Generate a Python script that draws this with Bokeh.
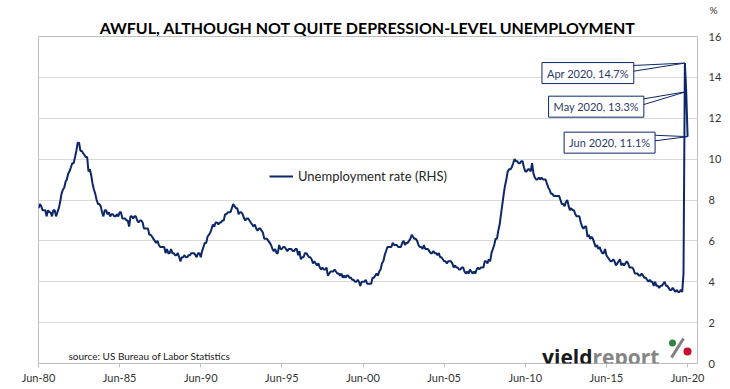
import pandas as pd
from bokeh.plotting import figure
from bokeh.models import Range1d, FixedTicker, Label, Legend, LegendItem, DatetimeTickFormatter, Title
from bokeh.embed import file_html
from bokeh.resources import INLINE

# ---------------- data ----------------
title_text = "AWFUL, ALTHOUGH NOT QUITE DEPRESSION-LEVEL UNEMPLOYMENT"
series_name = "Unemployment rate (RHS)"
source_text = "source: US Bureau of Labor Statistics"
unit_text = "%"
start_month = "1980-06-01"

unemployment_rate = [
    7.6, 7.8, 7.7, 7.5, 7.5, 7.5, 7.2,                                # 1980 Jun-Dec
    7.5, 7.4, 7.4, 7.2, 7.5, 7.5, 7.2, 7.4, 7.6, 7.9, 8.3, 8.5,       # 1981
    8.6, 8.9, 9.0, 9.3, 9.4, 9.6, 9.8, 9.8, 10.1, 10.4, 10.8, 10.8,   # 1982
    10.4, 10.4, 10.3, 10.2, 10.1, 10.1, 9.4, 9.5, 9.2, 8.8, 8.5, 8.3, # 1983
    8.0, 7.8, 7.8, 7.7, 7.4, 7.2, 7.5, 7.5, 7.3, 7.4, 7.2, 7.3,       # 1984
    7.3, 7.2, 7.2, 7.3, 7.2, 7.4, 7.4, 7.1, 7.1, 7.1, 7.0, 7.0,       # 1985
    6.7, 7.2, 7.2, 7.1, 7.2, 7.2, 7.0, 6.9, 7.0, 7.0, 6.9, 6.6,       # 1986
    6.6, 6.6, 6.6, 6.3, 6.3, 6.2, 6.1, 6.0, 5.9, 6.0, 5.8, 5.7,       # 1987
    5.7, 5.7, 5.7, 5.4, 5.6, 5.4, 5.4, 5.6, 5.4, 5.4, 5.3, 5.3,       # 1988
    5.4, 5.2, 5.0, 5.2, 5.2, 5.3, 5.2, 5.2, 5.3, 5.3, 5.4, 5.4,       # 1989
    5.4, 5.3, 5.2, 5.4, 5.4, 5.2, 5.5, 5.7, 5.9, 5.9, 6.2, 6.3,       # 1990
    6.4, 6.6, 6.8, 6.7, 6.9, 6.9, 6.8, 6.9, 6.9, 7.0, 7.0, 7.3,       # 1991
    7.3, 7.4, 7.4, 7.4, 7.6, 7.8, 7.7, 7.6, 7.6, 7.3, 7.4, 7.4,       # 1992
    7.3, 7.1, 7.0, 7.1, 7.1, 7.0, 6.9, 6.8, 6.7, 6.8, 6.6, 6.5,       # 1993
    6.6, 6.6, 6.5, 6.4, 6.1, 6.1, 6.1, 6.0, 5.9, 5.8, 5.6, 5.5,       # 1994
    5.6, 5.4, 5.4, 5.8, 5.6, 5.6, 5.7, 5.7, 5.6, 5.5, 5.6, 5.6,       # 1995
    5.6, 5.5, 5.5, 5.6, 5.6, 5.3, 5.5, 5.1, 5.2, 5.2, 5.4, 5.4,       # 1996
    5.3, 5.2, 5.2, 5.1, 4.9, 5.0, 4.9, 4.8, 4.9, 4.7, 4.6, 4.7,       # 1997
    4.6, 4.6, 4.7, 4.3, 4.4, 4.5, 4.5, 4.5, 4.6, 4.5, 4.4, 4.4,       # 1998
    4.3, 4.4, 4.2, 4.3, 4.2, 4.3, 4.3, 4.2, 4.2, 4.1, 4.1, 4.0,       # 1999
    4.0, 4.1, 4.0, 3.8, 4.0, 4.0, 4.0, 4.1, 3.9, 3.9, 3.9, 3.9,       # 2000
    4.2, 4.2, 4.3, 4.4, 4.3, 4.5, 4.6, 4.9, 5.0, 5.3, 5.5, 5.7,       # 2001
    5.7, 5.7, 5.7, 5.9, 5.8, 5.8, 5.8, 5.7, 5.7, 5.7, 5.9, 6.0,       # 2002
    5.8, 5.9, 5.9, 6.0, 6.1, 6.3, 6.2, 6.1, 6.1, 6.0, 5.8, 5.7,       # 2003
    5.7, 5.6, 5.8, 5.6, 5.6, 5.6, 5.5, 5.4, 5.4, 5.5, 5.4, 5.4,       # 2004
    5.3, 5.4, 5.2, 5.2, 5.1, 5.0, 5.0, 4.9, 5.0, 5.0, 5.0, 4.9,       # 2005
    4.7, 4.8, 4.7, 4.7, 4.6, 4.6, 4.7, 4.7, 4.5, 4.4, 4.5, 4.4,       # 2006
    4.6, 4.5, 4.4, 4.5, 4.4, 4.6, 4.7, 4.6, 4.7, 4.7, 4.7, 5.0,       # 2007
    5.0, 4.9, 5.1, 5.0, 5.4, 5.6, 5.8, 6.1, 6.1, 6.5, 6.8, 7.3,       # 2008
    7.8, 8.3, 8.7, 9.0, 9.4, 9.5, 9.5, 9.6, 9.8, 10.0, 9.9, 9.9,      # 2009
    9.8, 9.8, 9.9, 9.9, 9.6, 9.4, 9.4, 9.5, 9.5, 9.4, 9.8, 9.3,       # 2010
    9.1, 9.0, 9.0, 9.1, 9.0, 9.1, 9.0, 9.0, 9.0, 8.8, 8.6, 8.5,       # 2011
    8.3, 8.3, 8.2, 8.2, 8.2, 8.2, 8.2, 8.0, 7.8, 7.8, 7.7, 7.9,       # 2012
    8.0, 7.7, 7.5, 7.6, 7.5, 7.5, 7.3, 7.2, 7.2, 7.2, 6.9, 6.7,       # 2013
    6.6, 6.7, 6.7, 6.2, 6.3, 6.1, 6.2, 6.1, 5.9, 5.7, 5.8, 5.6,       # 2014
    5.7, 5.5, 5.4, 5.4, 5.6, 5.3, 5.2, 5.1, 5.0, 5.0, 5.1, 5.0,       # 2015
    4.8, 4.9, 5.0, 5.1, 4.8, 4.9, 4.8, 4.9, 5.0, 4.9, 4.7, 4.7,       # 2016
    4.7, 4.6, 4.4, 4.4, 4.4, 4.3, 4.3, 4.4, 4.3, 4.2, 4.2, 4.1,       # 2017
    4.0, 4.1, 4.0, 4.0, 3.8, 4.0, 3.8, 3.8, 3.7, 3.8, 3.8, 3.9,       # 2018
    4.0, 3.8, 3.8, 3.7, 3.6, 3.6, 3.7, 3.6, 3.5, 3.6, 3.5, 3.5,       # 2019
    3.6, 3.5, 4.4, 14.7, 13.3, 11.1,                                  # 2020 Jan-Jun
]

tick_dates = ["1980-06-01", "1985-06-01", "1990-06-01", "1995-06-01", "2000-06-01",
              "2005-06-01", "2010-06-01", "2015-06-01", "2020-06-01"]
tick_labels = ["Jun-80", "Jun-85", "Jun-90", "Jun-95", "Jun-00",
               "Jun-05", "Jun-10", "Jun-15", "Jun-20"]
y_ticks = [0, 2, 4, 6, 8, 10, 12, 14, 16]

callout_months = ["2020-04-01", "2020-05-01", "2020-06-01"]
callout_values = [14.7, 13.3, 11.1]
callout_labels = ["Apr 2020, 14.7%", "May 2020, 13.3%", "Jun 2020, 11.1%"]

# ---------------- styling ----------------
FONT = "Lato"
NAVY = "#0c2868"
TXT = "#333333"
GRID = "#d9d9d9"
BORDER = "#bfbfbf"

FIG_W, FIG_H = 730, 389
B_LEFT, B_RIGHT, B_TOP, B_BOTTOM = 38, 33, 36, 26
FRAME_W = FIG_W - B_LEFT - B_RIGHT
FRAME_H = FIG_H - B_TOP - B_BOTTOM

x_start = pd.Timestamp("1980-06-01")
x_end = pd.Timestamp("2021-01-10")
ms = lambda t: pd.Timestamp(t).value / 1e6
ms_per_px = (ms(x_end) - ms(x_start)) / FRAME_W
y_per_px = 16.0 / FRAME_H

dates = pd.date_range(start_month, periods=len(unemployment_rate), freq="MS")

p = figure(width=FIG_W, height=FIG_H, x_axis_type="datetime", y_axis_location="right",
           x_range=Range1d(x_start, x_end), y_range=Range1d(0, 16),
           output_backend="svg", toolbar_location=None,
           min_border_left=B_LEFT, min_border_right=B_RIGHT,
           min_border_top=B_TOP, min_border_bottom=B_BOTTOM)

p.background_fill_color = "white"
p.border_fill_color = "white"
p.outline_line_color = BORDER
p.outline_line_width = 1

# main title (inner) and "%" unit (outer) stacked in the top panel
p.title = None
main_title = Title(text=title_text, align="center", standoff=0,
                   text_font=FONT, text_font_size="16px", text_font_style="bold",
                   text_color="#000000")
unit_title = Title(text=unit_text, align="right", offset=-20, standoff=0,
                   text_font=FONT, text_font_size="10px", text_font_style="normal",
                   text_color=TXT)
p.add_layout(main_title, "above")
p.add_layout(unit_title, "above")

# x axis
tick_ms = [ms(t) for t in tick_dates]
p.xaxis.ticker = FixedTicker(ticks=tick_ms)
p.xaxis.formatter = DatetimeTickFormatter(years="%b-%y", months="%b-%y", days="%b-%y")
p.xaxis.major_label_overrides = {t: l for t, l in zip(tick_ms, tick_labels)}
p.xaxis.axis_line_color = BORDER
p.xaxis.major_tick_line_color = BORDER
p.xaxis.major_tick_in = 0
p.xaxis.major_tick_out = 4
p.xaxis.minor_tick_line_color = None
p.xaxis.major_label_standoff = 3
p.xaxis.major_label_text_font = FONT
p.xaxis.major_label_text_font_size = "11px"
p.xaxis.major_label_text_color = TXT

# right y axis
p.yaxis.ticker = FixedTicker(ticks=y_ticks)
p.yaxis.axis_line_color = None
p.yaxis.major_tick_line_color = None
p.yaxis.minor_tick_line_color = None
p.yaxis.major_tick_out = 0
p.yaxis.major_tick_in = 0
p.yaxis.major_label_standoff = 11
p.yaxis.major_label_text_font = FONT
p.yaxis.major_label_text_font_size = "11px"
p.yaxis.major_label_text_color = TXT

p.xgrid.visible = False
p.ygrid.ticker = FixedTicker(ticks=y_ticks)
p.ygrid.grid_line_color = GRID
p.ygrid.grid_line_width = 1

# callout pointers (drawn under the series line)
box_center_off = [(-97, 10), (-90, 15), (-78, 6)]   # px: (dx, dy down) of box centre from point
box_half_w = [44.5, 46.5, 44]
pxs, pys = [], []
for m, v, (dx, dy), hw in zip(callout_months, callout_values, box_center_off, box_half_w):
    t = ms(m)
    ex = t + (dx + hw - 1) * ms_per_px
    pxs.append([t, ex, ex])
    pys.append([v, v - (dy - 7.5) * y_per_px, v - (dy - 1.5) * y_per_px])
p.patches(pxs, pys, fill_color="white", line_color=NAVY, line_width=1)

line_r = p.line(dates, unemployment_rate, line_color=NAVY, line_width=2)

for m, v, txt, (dx, dy) in zip(callout_months, callout_values, callout_labels, box_center_off):
    p.add_layout(Label(x=ms(m), y=v, x_offset=dx, y_offset=-dy, text=txt,
                       text_align="center", text_baseline="middle",
                       text_font=FONT, text_font_size="11px", text_color="#2b3a67",
                       background_fill_color="white", border_line_color=NAVY,
                       border_line_width=1, padding=(5, 4)))

legend = Legend(items=[LegendItem(label=series_name, renderers=[line_r])],
                location=(231, 179), orientation="vertical",
                border_line_color=None, background_fill_alpha=0,
                padding=0, margin=0, glyph_width=24, glyph_height=16,
                label_height=16, label_standoff=5,
                label_text_font=FONT, label_text_font_size="13px", label_text_color="#262626")
p.add_layout(legend)

# source note
p.add_layout(Label(x=ms(x_start), y=0, x_offset=30, y_offset=8, text=source_text,
                   text_align="left", text_baseline="middle",
                   text_font=FONT, text_font_size="10px", text_color="#1a1a1a"))

# yieldreport logo
p.add_layout(Label(x=ms(x_start), y=0, x_offset=554, y_offset=7, text="yield",
                   text_align="right", text_baseline="alphabetic",
                   text_font="Open Sans", text_font_size="21px",
                   text_font_style="bold", text_color="#1a1a1a"))
p.add_layout(Label(x=ms(x_start), y=0, x_offset=554, y_offset=7, text="report",
                   text_align="left", text_baseline="alphabetic",
                   text_font="Open Sans", text_font_size="21px",
                   text_font_style="bold", text_color="#858585"))
px2x = lambda px: ms(x_start) + (px - B_LEFT) * ms_per_px
px2y = lambda py: (FIG_H - B_BOTTOM - py) * y_per_px
p.segment(x0=[px2x(671)], y0=[px2y(357)], x1=[px2x(683)], y1=[px2y(338)],
          line_color="#7f7f7f", line_width=3)
p.scatter([px2x(672), px2x(687)], [px2y(342.5), px2y(351)], size=[7, 8],
          fill_color=["#2e8540", "#c8102e"], line_color=None)

open("out.html", "w").write(file_html(p, INLINE))
